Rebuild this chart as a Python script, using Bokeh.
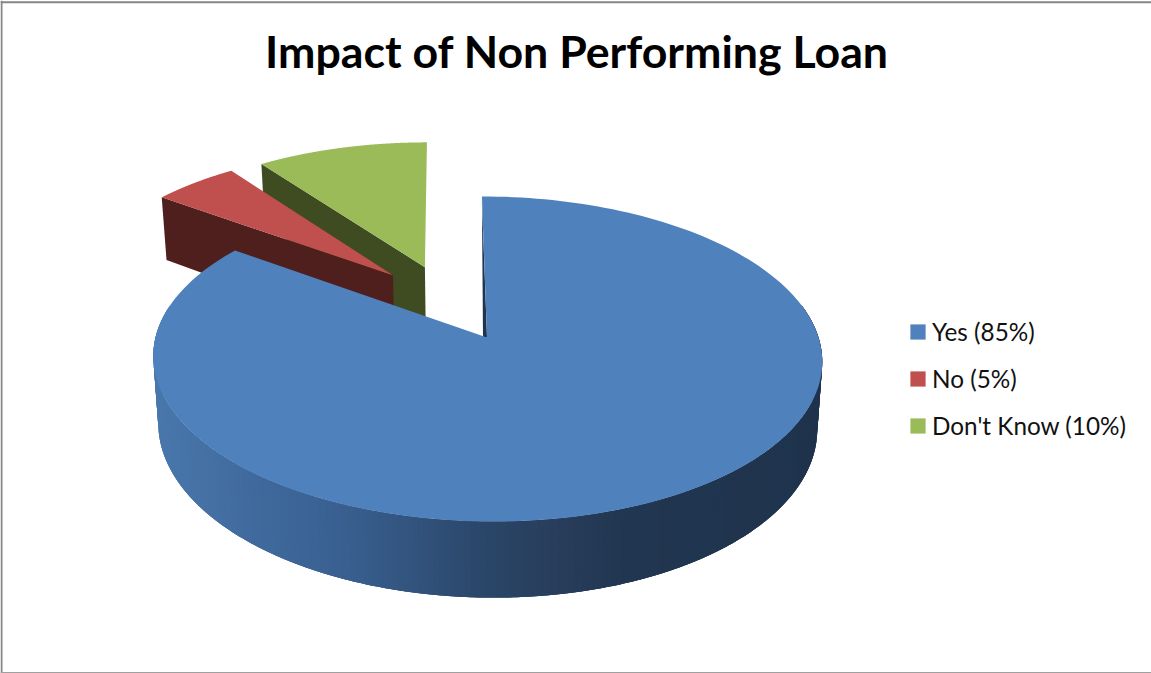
import numpy as np
from bokeh.embed import file_html
from bokeh.models import ColumnDataSource, Legend, LegendItem, Range1d
from bokeh.plotting import figure
from bokeh.resources import INLINE
from bokeh.core.properties import value

# Survey results
TITLE = "Impact of Non Performing Loan"
CATEGORIES = ["Yes", "No", "Don't Know"]
PERCENTAGES = [85, 5, 10]

TOP_COLORS = ["#4f81bd", "#c0504d", "#9bbb59"]
WALL_COLORS = ["#1f344d", "#4f1f1e", "#3f4c21"]

# Lighting of the drum's rim, left to right across the canvas
RIM_X = [150, 250, 350, 430, 480, 550, 625, 830]
RIM_R = [74, 64, 56, 48, 42, 40, 33, 31]
RIM_G = [120, 106, 94, 80, 70, 62, 54, 51]
RIM_B = [172, 158, 142, 120, 105, 92, 80, 77]

# Perspective camera for the pie disk
CX, CY = 486.5, 337.0
RX, RY = 331.5, 159.7
PERSPECTIVE = 0.1323
SHEAR = 0.036
THICKNESS = 66.0
WEDGE_THICKNESS = 71.0
CONVERGE = 0.985

# Pulled-out wedges: distance in radii, bearing of the pull, drawn radius
EXPLODE = [0.0, 0.504, 0.505]
EXPLODE_BEARING = [0.0, 324.6, 337.8]
WEDGE_RADIUS = [1.0, 0.99, 0.99]


def project(dx, dy, bottom=False, depth=THICKNESS):
    dx, dy = np.asarray(dx, float), np.asarray(dy, float)
    w = 1 - PERSPECTIVE * dy
    X, Y = RX * dx / w, RY * dy / w
    if bottom:
        return CX + CONVERGE * X + SHEAR * Y, CY + Y + depth / w
    return CX + X + SHEAR * Y, CY + Y


def arc(start, end, n=200):
    t = np.radians(np.linspace(start, end, n))
    return np.sin(t), -np.cos(t)


def wedge_points(i, start, end):
    b = np.radians(EXPLODE_BEARING[i])
    ex, ey = EXPLODE[i] * np.sin(b), -EXPLODE[i] * np.cos(b)
    ax, ay = arc(start, end)
    return ex, ey, WEDGE_RADIUS[i] * ax + ex, WEDGE_RADIUS[i] * ay + ey


p = figure(width=1151, height=673, output_backend="svg", toolbar_location=None,
           x_range=Range1d(0, 1151), y_range=Range1d(673, 0),
           x_axis_location=None, y_axis_location=None,
           min_border=0, outline_line_color=None, background_fill_color="white")
p.grid.visible = False

# Chart area frame
p.segment([1, 0], [0, 1.8], [1, 1151], [673, 1.8], line_color="#868686", line_width=2)
p.segment([0], [672.3], [1151], [672.3], line_color="#a0a0a0", line_width=1.4)

angles = np.cumsum([0] + PERCENTAGES) * 3.6
tops = {}

# Back wedges are painted first, the large slice in front overlaps them
for i in (2, 1):
    start, end = angles[i], angles[i + 1]
    ex, ey, rx, ry = wedge_points(i, start, end)
    tx0, ty0 = project(ex, ey)
    tx1, ty1 = project(rx[0], ry[0])
    bx0, by0 = project(ex, ey, bottom=True, depth=WEDGE_THICKNESS)
    bx1, by1 = project(rx[0], ry[0], bottom=True, depth=WEDGE_THICKNESS)
    p.patch([tx0, tx1, bx1, bx0], [ty0, ty1, by1, by0], fill_color=WALL_COLORS[i], line_color=None)
    sx, sy = project(rx, ry)
    tops[i] = p.patch(np.r_[tx0, sx], np.r_[ty0, sy], fill_color=TOP_COLORS[i], line_color=None)

# Rim of the large slice: shaded strips painted left to right, each one
# running under the next so that no seams show
edges = np.linspace(282, 78, 260)
xs, ys, cols = [], [], []
for k in range(len(edges) - 1):
    a0, a1 = edges[k], edges[min(k + 3, len(edges) - 1)]
    ax, ay = arc(a0, a1, 5)
    tx, ty = project(ax, ay)
    bx, by = project(ax, ay, bottom=True)
    xs.append(np.r_[tx, bx[::-1]])
    ys.append(np.r_[ty, by[::-1]])
    mx = float(tx[0])
    cols.append("#%02x%02x%02x" % tuple(int(round(np.interp(mx, RIM_X, c))) for c in (RIM_R, RIM_G, RIM_B)))
p.patches("x", "y", source=ColumnDataSource(dict(x=xs, y=ys, c=cols)),
          fill_color="c", line_color=None)

# Cut face at twelve o'clock, seen almost edge on
rim_x, rim_y = project(0.0, -1.0)
mid_x, mid_y = project(0.0, 0.0)
p.patch([float(rim_x), float(mid_x), float(mid_x) - 4], [float(rim_y) + 4, float(mid_y), float(mid_y)],
        fill_color=WALL_COLORS[0], line_color=None)

ex, ey, rx, ry = wedge_points(0, angles[0], angles[1])
cx0, cy0 = project(ex, ey)
sx, sy = project(rx, ry)
tops[0] = p.patch(np.r_[cx0, sx], np.r_[cy0, sy], fill_color=TOP_COLORS[0], line_color=None)

p.text([576.5], [50], text=[TITLE], text_font=value("Lato"), text_font_style="bold",
       text_font_size="44.7px", text_align="center", text_baseline="alphabetic", text_color="black")

labels = [f"{c} ({v}%)" for c, v in zip(CATEGORIES, PERCENTAGES)]
legend = Legend(items=[LegendItem(label=l, renderers=[tops[i]]) for i, l in enumerate(labels)],
                location=(908, 233), orientation="vertical",
                glyph_width=19, glyph_height=19, label_standoff=5, spacing=18,
                label_text_font="Lato", label_text_font_size="24.3px", label_text_color="#111111",
                border_line_color=None, background_fill_color=None, background_fill_alpha=0,
                padding=0, margin=0)
p.add_layout(legend, "center")

open("out.html", "w").write(file_html(p, INLINE))
